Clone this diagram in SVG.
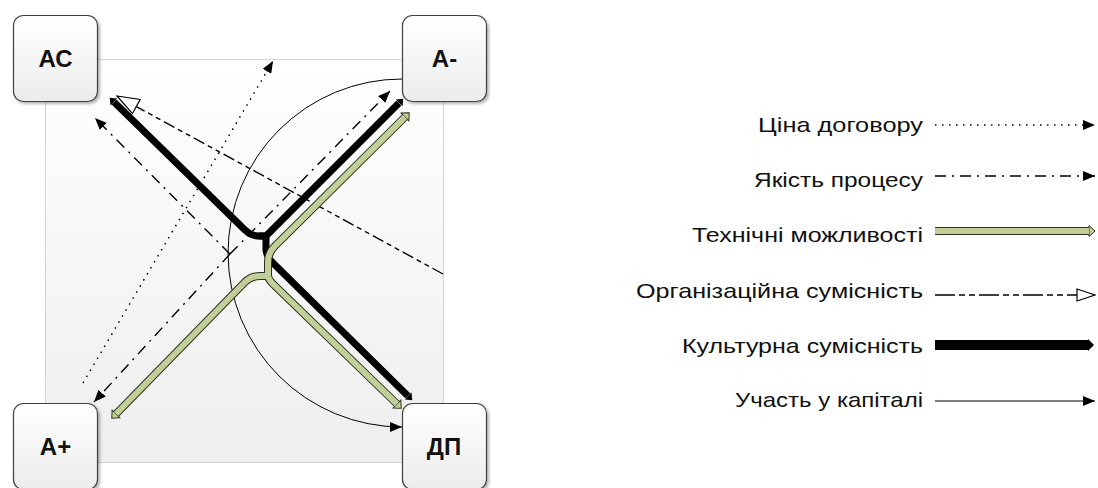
<svg xmlns="http://www.w3.org/2000/svg" width="1098" height="488" viewBox="0 0 1098 488">
<defs>
  <linearGradient id="bgGrad" x1="0" y1="0" x2="0" y2="1">
    <stop offset="0" stop-color="#ffffff"/>
    <stop offset="1" stop-color="#eeeeee"/>
  </linearGradient>
  <linearGradient id="nodeGrad" x1="0" y1="0" x2="0" y2="1">
    <stop offset="0" stop-color="#ffffff"/>
    <stop offset="1" stop-color="#ececec"/>
  </linearGradient>
  <filter id="shadow" x="-10%" y="-10%" width="130%" height="130%">
    <feGaussianBlur in="SourceAlpha" stdDeviation="1.5"/>
    <feOffset dx="2" dy="2" result="o"/>
    <feComponentTransfer><feFuncA type="linear" slope="0.3"/></feComponentTransfer>
    <feMerge><feMergeNode/><feMergeNode in="SourceGraphic"/></feMerge>
  </filter>
  <marker id="arrFill" viewBox="0 0 12 10" refX="12" refY="5" markerWidth="12" markerHeight="10" markerUnits="userSpaceOnUse" orient="auto">
    <path d="M0,0 L12,5 L0,10 z" fill="#000"/>
  </marker>
  <marker id="arrOpen" viewBox="-1 -9 24 18" refX="22" refY="0" markerWidth="24" markerHeight="18" markerUnits="userSpaceOnUse" orient="auto">
    <path d="M0,-8 L22,0 L0,8 z" fill="#fff" stroke="#000" stroke-width="1.2"/>
  </marker>
  <marker id="arrOpenS" viewBox="-1 -7 20 14" refX="18" refY="0" markerWidth="20" markerHeight="14" markerUnits="userSpaceOnUse" orient="auto">
    <path d="M0,-6 L18,0 L0,6 z" fill="#fff" stroke="#000" stroke-width="1.2"/>
  </marker>
  <marker id="arrBlk" viewBox="0 -5 6 10" refX="0" refY="0" markerWidth="6" markerHeight="10" markerUnits="userSpaceOnUse" orient="auto">
    <path d="M0,-5 L6,0 L0,5 z" fill="#000"/>
  </marker>
  <marker id="arrBlkL" viewBox="0 -6 6 12" refX="0" refY="0" markerWidth="6" markerHeight="12" markerUnits="userSpaceOnUse" orient="auto">
    <path d="M0,-6 L6,0 L0,6 z" fill="#000"/>
  </marker>
  <marker id="arrGrn" viewBox="-1 -7 9 14" refX="0" refY="0" markerWidth="9" markerHeight="14" markerUnits="userSpaceOnUse" orient="auto">
    <path d="M0,-5.5 L6,0 L0,5.5 z" fill="#c3cf98" stroke="#2e3320" stroke-width="1"/>
  </marker>
</defs>
<style>
  .frame { fill: url(#bgGrad); stroke: #b0b0b0; stroke-width: 1; stroke-dasharray: 1 1; }
  .node rect.box { fill: url(#nodeGrad); stroke: #404040; stroke-width: 1.2; }
  .node text { font-family: "Liberation Sans", Arial, sans-serif; font-weight: bold; font-size: 24px; fill: #111; text-anchor: middle; }
  .ln { fill: none; stroke: #000; }
  .dot { stroke-width: 1.5; stroke-dasharray: 1.5 5.5; }
  .dashdot { stroke-width: 1.4; stroke-dasharray: 11 6 2 6; }
  .dash { stroke-width: 1.4; stroke-dasharray: 12 4 5 4 5 4; }
  .dashL { stroke-width: 1.4; stroke-dasharray: 20 4 6 4 6 4; }
  .thin { stroke-width: 1; }
  .black { stroke-width: 7; stroke-linejoin: round; }
  .gOut { fill: none; stroke: #2e3320; stroke-width: 8; stroke-linejoin: round; }
  .gIn { fill: none; stroke: #c3cf98; stroke-width: 6; stroke-linejoin: round; }
  .lbl { font-family: "Liberation Sans", Arial, sans-serif; font-size: 21px; fill: #111; text-anchor: end; }
</style>

<rect class="frame" x="45.5" y="59.5" width="398" height="403"/>

<g id="connectors">
  <!-- Ціна договору (dotted) -->
  <path class="ln dot" d="M83,383 L273,61" marker-end="url(#arrFill)"/>
  <!-- Якість процесу (dash-dot) -->
  <path class="ln dashdot" d="M230,254 L95,118" marker-end="url(#arrFill)"/>
  <path class="ln dashdot" d="M230,254 L94,402" marker-end="url(#arrFill)"/>
  <path class="ln dashdot" d="M230,254 L390,91" marker-end="url(#arrFill)"/>
  <!-- Організаційна сумісність (dashed) -->
  <path class="ln dash" d="M443,274 L117,96" marker-end="url(#arrOpen)"/>
  <!-- Участь у капіталі (thin arc) -->
  <path class="ln thin" d="M402,79 A174,174 0 0 0 402,427" marker-end="url(#arrFill)"/>
  <!-- Культурна сумісність (thick black) -->
  <path class="ln black" d="M266,236 L259,236 Q251,236 245,230 L114,102" marker-end="url(#arrBlk)"/>
  <path class="ln black" d="M259,236 L266,236 L399,103" marker-end="url(#arrBlk)"/>
  <path class="ln black" d="M266,236 L266,250 Q267,258 274,264 L408,396" marker-end="url(#arrBlk)"/>
  <!-- Технічні можливості (green double) -->
  <path class="gOut" d="M268,276 L260,276 Q251,276 245,282 L116,414" marker-end="url(#arrGrn)"/>
  <path class="gOut" d="M268,276 L268,262 Q268,253 275,246 L405,117" marker-end="url(#arrGrn)"/>
  <path class="gOut" d="M268,270 L268,275 Q268,279 273,284 L397,404" marker-end="url(#arrGrn)"/>
  <path class="gIn" d="M268,276 L260,276 Q251,276 245,282 L116,414"/>
  <path class="gIn" d="M268,276 L268,262 Q268,253 275,246 L405,117"/>
  <path class="gIn" d="M268,270 L268,275 Q268,279 273,284 L397,404"/>
</g>

<g id="node-AC" class="node">
  <rect class="box" x="13.5" y="15.5" width="84" height="86" rx="10" filter="url(#shadow)"/>
  <text x="55.5" y="67">АС</text>
</g>
<g id="node-A-minus" class="node">
  <rect class="box" x="402.5" y="15.5" width="84" height="86" rx="10" filter="url(#shadow)"/>
  <text x="444.5" y="67">А-</text>
</g>
<g id="node-A-plus" class="node">
  <rect class="box" x="13.5" y="403.5" width="84" height="86" rx="10" filter="url(#shadow)"/>
  <text x="55.5" y="455">А+</text>
</g>
<g id="node-DP" class="node">
  <rect class="box" x="402.5" y="403.5" width="84" height="86" rx="10" filter="url(#shadow)"/>
  <text x="444" y="455">ДП</text>
</g>

<g id="legend">
  <text class="lbl" x="923" y="132" textLength="165" lengthAdjust="spacingAndGlyphs">Ціна договору</text>
  <path class="ln dot" d="M935,125 L1095,125" marker-end="url(#arrFill)"/>
  <text class="lbl" x="923" y="187" textLength="169" lengthAdjust="spacingAndGlyphs">Якість процесу</text>
  <path class="ln dashdot" d="M935,176 L1095,176" stroke-dasharray="13 7 2 7" marker-end="url(#arrFill)"/>
  <text class="lbl" x="923" y="242" textLength="231" lengthAdjust="spacingAndGlyphs">Технічні можливості</text>
  <path class="gOut" d="M935,231 L1089,231" stroke-width="9" marker-end="url(#arrGrn)"/>
  <path class="gIn" d="M935,231 L1089,231" stroke-width="7"/>
  <text class="lbl" x="923" y="298" textLength="287" lengthAdjust="spacingAndGlyphs">Організаційна сумісність</text>
  <path class="ln dashL" d="M935,295 L1095,295" marker-end="url(#arrOpenS)"/>
  <text class="lbl" x="923" y="353" textLength="241" lengthAdjust="spacingAndGlyphs">Культурна сумісність</text>
  <path class="ln" d="M935,345 L1088,345" stroke-width="10" marker-end="url(#arrBlkL)"/>
  <text class="lbl" x="923" y="407" textLength="188" lengthAdjust="spacingAndGlyphs">Участь у капіталі</text>
  <path class="ln thin" d="M935,401 L1095,401" marker-end="url(#arrFill)"/>
</g>
</svg>
